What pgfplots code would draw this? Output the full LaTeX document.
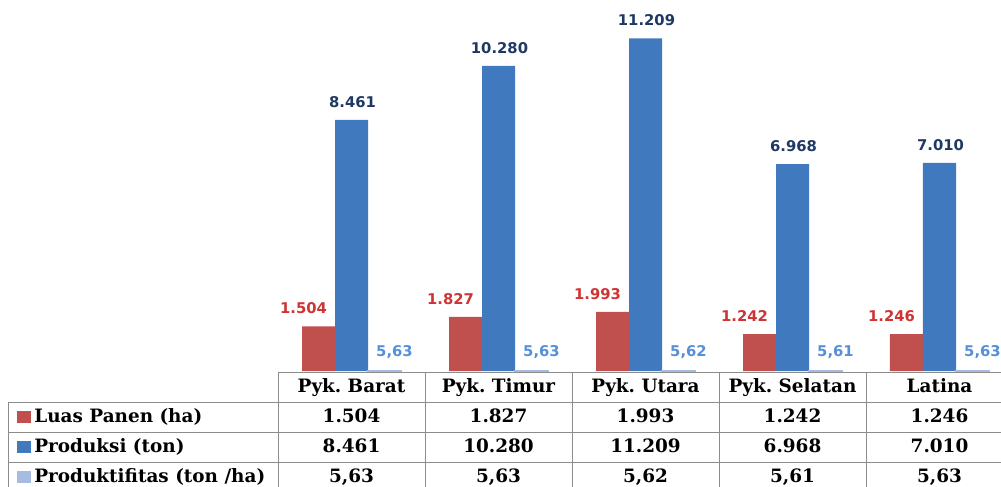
\documentclass[border=0pt]{standalone}
\usepackage{fontspec}
\setmainfont{DejaVu Serif}
\newfontfamily\lblfont{DejaVu Sans}
\usepackage{pgfplots}
\usepackage{pgfplotstable}
\pgfplotsset{compat=1.18}
\frenchspacing

\definecolor{luas}{HTML}{C0504D}
\definecolor{prod}{HTML}{4079BE}
\definecolor{ptv}{HTML}{A7BADF}
\definecolor{luaslbl}{HTML}{CF3434}
\definecolor{prodlbl}{HTML}{1F3864}
\definecolor{ptvlbl}{HTML}{5690D8}
\definecolor{rule}{HTML}{8C8C8C}

% luas panen (ha), produksi (ton), produktifitas (ton/ha)
\pgfplotstableread{
x luas prod ptv luasL prodL ptvL
0 1504 8461 5.63 1.504 8.461 5,63
1 1827 10280 5.63 1.827 10.280 5,63
2 1993 11209 5.62 1.993 11.209 5,62
3 1242 6968 5.61 1.242 6.968 5,61
4 1246 7010 5.63 1.246 7.010 5,63
}\datatable

\newcommand\lbl{\lblfont\bfseries\fontsize{7.4}{8}\selectfont}
\newcommand\tbl{\bfseries\fontsize{9.2}{11}\selectfont}

\begin{document}
\begin{tikzpicture}
\useasboundingbox (0,0) rectangle (500.5pt,-243.5pt);
\clip (0,0) rectangle (500.5pt,-243.5pt);

\begin{axis}[
    at={(139pt,-185.5pt)}, anchor=south west,
    scale only axis,
    width=367.5pt, height=185.5pt,
    xmin=-0.5, xmax=4.5,
    ymin=0, ymax=12500,
    hide axis,
    clip=false,
    ybar=0pt,
    bar width=16.5pt,
    point meta=explicit symbolic,
]
\addplot[fill=luas, draw=none,
    nodes near coords,
    every node near coord/.append style={anchor=center, yshift=9pt, xshift=-7.5pt, font=\lbl, text=luaslbl}]
    table[x=x, y=luas, meta=luasL] {\datatable};
\addplot[fill=prod, draw=none,
    nodes near coords,
    every node near coord/.append style={anchor=center, yshift=9pt, xshift=0.5pt, font=\lbl, text=prodlbl}]
    table[x=x, y=prod, meta=prodL] {\datatable};
\addplot[fill=ptv, draw=ptv, line width=0.6pt,
    nodes near coords,
    every node near coord/.append style={anchor=center, yshift=9.5pt, xshift=5pt, font=\lbl, text=ptvlbl}]
    table[x=x, y=ptv, meta=ptvL] {\datatable};
\end{axis}

% data table under the bars (coordinates in image pixels)
\begin{scope}[x=0.5pt, y=-0.5pt, every node/.style={text height=7pt, text depth=2pt}]
\draw[rule, line width=0.5pt] (278,372) -- (1013,372);
\foreach \yy in {402,432,462,492}
  \draw[rule, line width=0.5pt] (8,\yy) -- (1013,\yy);
\draw[rule, line width=0.5pt] (8,402) -- (8,492);
\foreach \xx in {278,425,572,719,866,1013}
  \draw[rule, line width=0.5pt] (\xx,372) -- (\xx,492);

\foreach \name [count=\i from 0] in {Pyk. Barat, Pyk. Timur, Pyk. Utara, Pyk. Selatan, Latina}
  \node[font=\tbl] at (351.5+147*\i,387) {\name};

\fill[luas] (17,411) rectangle (31,423);
\fill[prod] (17,441) rectangle (31,453);
\fill[ptv] (17,471) rectangle (31,483);
\node[font=\tbl, anchor=west, inner sep=0pt] at (34,417) {Luas Panen (ha)};
\node[font=\tbl, anchor=west, inner sep=0pt] at (34,447) {Produksi (ton)};
\node[font=\tbl, anchor=west, inner sep=0pt] at (34,477) {Produktifitas (ton /ha)};

\foreach \v [count=\i from 0] in {1.504, 1.827, 1.993, 1.242, 1.246}
  \node[font=\tbl] at (351.5+147*\i,417) {\v};
\foreach \v [count=\i from 0] in {8.461, 10.280, 11.209, 6.968, 7.010}
  \node[font=\tbl] at (351.5+147*\i,447) {\v};
\foreach \v [count=\i from 0] in {{5,63}, {5,63}, {5,62}, {5,61}, {5,63}}
  \node[font=\tbl] at (351.5+147*\i,477) {\v};
\end{scope}
\end{tikzpicture}
\end{document}
